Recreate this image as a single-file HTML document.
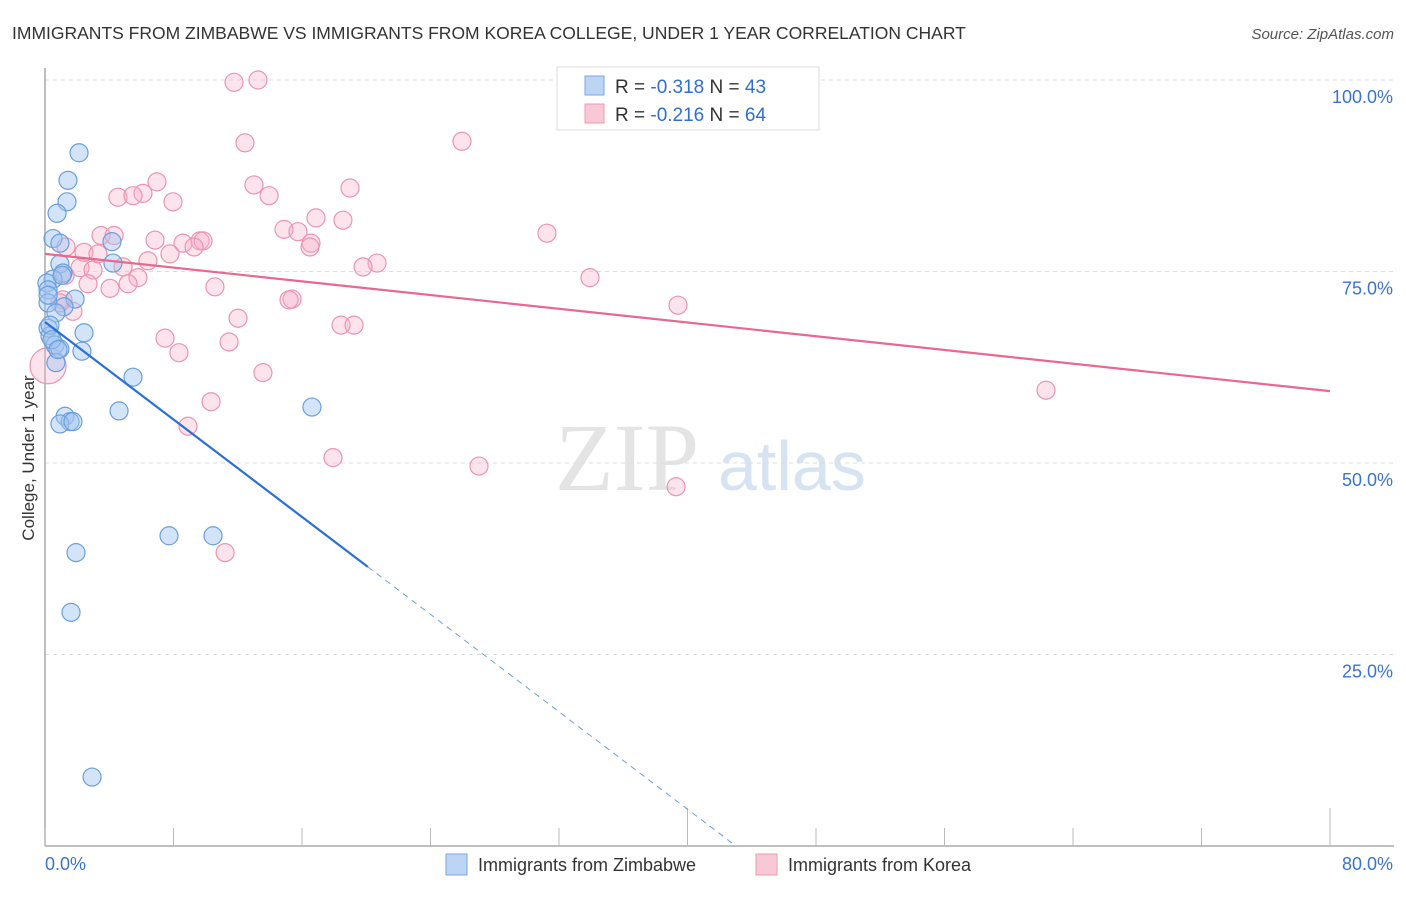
<!DOCTYPE html>
<html><head><meta charset="utf-8"><style>
body{margin:0;background:#fff;font-family:"Liberation Sans",sans-serif;}
</style></head><body>
<svg id="chart" width="1406" height="892" xmlns="http://www.w3.org/2000/svg">
<text x="12" y="39" font-size="17.5" fill="#333">IMMIGRANTS FROM ZIMBABWE VS IMMIGRANTS FROM KOREA COLLEGE, UNDER 1 YEAR CORRELATION CHART</text>
<text x="1394" y="39" font-size="15" fill="#555" font-style="italic" text-anchor="end">Source: ZipAtlas.com</text>
<g>
<text x="555" y="490" font-size="96" font-family="Liberation Serif,serif" fill="#e4e4e4">ZIP</text>
<text x="718" y="490" font-size="70" fill="#d6e3f3">atlas</text>
</g>
<g id="grid"></g>
<g id="axes"></g>
<g id="marks"></g>
<text transform="translate(34,458) rotate(-90)" font-size="17" fill="#333" text-anchor="middle">College, Under 1 year</text>
<g>
<rect x="557" y="67" width="262" height="63" fill="#fff" stroke="#ddd"/>
<rect x="585" y="76" width="19" height="19" fill="#bcd5f5" stroke="#7aa7e0"/>
<rect x="585" y="104" width="19" height="19" fill="#f9c8d6" stroke="#eb9ab2"/>
<text x="615" y="93" font-size="19" fill="#333">R = <tspan fill="#2f6fd1">-0.318</tspan>   N = <tspan fill="#2f6fd1">43</tspan></text>
<text x="615" y="121" font-size="19" fill="#333">R = <tspan fill="#2f6fd1">-0.216</tspan>   N = <tspan fill="#2f6fd1">64</tspan></text>
</g>
<g>
<rect x="446" y="854" width="21" height="21" fill="#bcd5f5" stroke="#7aa7e0"/>
<text x="478" y="871" font-size="18" fill="#333">Immigrants from Zimbabwe</text>
<rect x="756" y="854" width="21" height="21" fill="#f9c8d6" stroke="#eb9ab2"/>
<text x="788" y="871" font-size="18" fill="#333">Immigrants from Korea</text>
</g>
</svg>
<script>
const blueX=[2.12,1.43,1.37,0.75,0.50,0.93,4.17,0.93,4.23,1.12,0.50,0.12,0.19,1.87,0.19,1.18,0.68,0.19,2.43,0.31,0.62,0.93,2.30,0.68,5.48,4.61,1.25,1.56,0.93,1.74,16.62,7.72,10.46,1.93,1.62,2.93,0.19,0.31,0.44,1.06,0.81];
const blueY=[90.5,86.9,84.1,82.6,79.3,78.7,78.9,76.0,76.1,74.8,74.0,73.5,72.6,71.4,70.9,70.4,69.6,67.6,67.0,66.6,65.4,64.9,64.6,63.1,61.2,56.8,56.1,55.4,55.1,55.4,57.3,40.5,40.5,38.3,30.5,9.0,71.9,68.0,66.1,74.5,64.8];
const pinkX=[11.77,13.26,25.96,12.45,6.97,13.01,6.10,18.99,4.54,5.48,13.95,7.97,16.87,18.55,14.88,15.75,31.25,3.49,4.30,6.85,8.59,9.65,9.84,16.56,16.50,9.28,1.31,2.43,3.30,7.78,6.41,4.86,20.67,19.80,2.18,2.99,1.25,5.79,5.17,4.05,2.68,10.58,33.93,15.38,15.19,39.41,1.74,12.02,18.43,19.24,7.47,11.46,8.34,13.57,0.19,62.32,10.34,8.90,17.93,27.02,39.29,11.21,1.12,0.93];
const pinkY=[99.7,100.0,92.0,91.8,86.7,86.3,85.2,85.9,84.7,84.9,84.9,84.1,82.0,81.7,80.5,80.2,80.0,79.7,79.7,79.1,78.7,79.0,79.0,78.7,78.2,78.2,78.2,77.5,77.3,77.3,76.4,75.6,76.1,75.6,75.5,75.2,74.5,74.2,73.4,72.8,73.4,73.0,74.2,71.4,71.3,70.6,69.8,68.9,68.0,68.0,66.3,65.8,64.4,61.8,62.7,59.5,58.0,54.8,50.7,49.6,46.9,38.3,71.3,70.9];
const pinkR=pinkX.map((v,i)=>i===54?18:9);
const blueTrend=[68.4,-1.59];
const pinkTrend=[77.3,-0.224];
const yTicks=[25,50,75,100];
const yTickLabels=["25.0%","50.0%","75.0%","100.0%"];
const xTicks=[0,8,16,24,32,40,48,56,64,72,80];
const NS="http://www.w3.org/2000/svg";
const X0=45,X1=1330,Y0=846,Y100=80;
const sx=v=>X0+v/80*(X1-X0);
const sy=v=>Y0-v/100*(Y0-Y100);
function mk(parent,tag,attrs){const e=document.createElementNS(NS,tag);for(const k in attrs)e.setAttribute(k,attrs[k]);document.getElementById(parent).appendChild(e);return e;}
yTicks.forEach((t,i)=>{
 const l=mk('grid','line',{x1:X0,x2:1394,y1:sy(t),y2:sy(t),stroke:'#ddd','stroke-dasharray':'4,4'});
 
 
 const tx=mk('grid','text',{x:1393,y:sy(t)+23,'font-size':18,fill:'#3a74d0','text-anchor':'end'});
 tx.textContent=yTickLabels[i];
 
 
});
const ax=mk('axes','line',{x1:X0,x2:1394,y1:Y0,y2:Y0,stroke:'#aaa','stroke-width':1.5});


const ay=mk('axes','line',{x1:X0,x2:X0,y1:68,y2:Y0,stroke:'#aaa','stroke-width':1.5});


xTicks.forEach(t=>{
 const tall=(t===40||t===80);
 const l=mk('axes','line',{x1:sx(t),x2:sx(t),y1:tall?808:828,y2:Y0,stroke:'#bbb'});
 
 
});
const xl0=mk('axes','text',{x:45,y:870,'font-size':18,fill:'#3a74d0'});xl0.textContent='0.0%';


const xl1=mk('axes','text',{x:1393,y:870,'font-size':18,fill:'#3a74d0','text-anchor':'end'});xl1.textContent='80.0%';


pinkX.forEach((v,i)=>{
 const c=mk('marks','circle',{cx:sx(v),cy:sy(pinkY[i]),r:pinkR[i],fill:'rgba(246,176,200,0.35)',stroke:'#ec94b0','stroke-width':1.2});
 
 
});
blueX.forEach((v,i)=>{
 const c=mk('marks','circle',{cx:sx(v),cy:sy(blueY[i]),r:9,fill:'rgba(160,196,240,0.45)',stroke:'#6a9fde','stroke-width':1.2});
 
 
});
const pt=mk('marks','line',{x1:sx(0),y1:sy(pinkTrend[0]),x2:sx(80),y2:sy(pinkTrend[0]+80*pinkTrend[1]),stroke:'#e8688f','stroke-width':2.2});


const bEnd=20.1, bZero=-blueTrend[0]/blueTrend[1];
const bt=mk('marks','line',{x1:sx(0),y1:sy(blueTrend[0]),x2:sx(bEnd),y2:sy(blueTrend[0]+bEnd*blueTrend[1]),stroke:'#2a6fd6','stroke-width':2.2});


const bd=mk('marks','line',{x1:sx(bEnd),y1:sy(blueTrend[0]+bEnd*blueTrend[1]),x2:sx(bZero),y2:sy(0),stroke:'#6a9fde','stroke-width':1,'stroke-dasharray':'6,5'});


</script>
</body></html>
